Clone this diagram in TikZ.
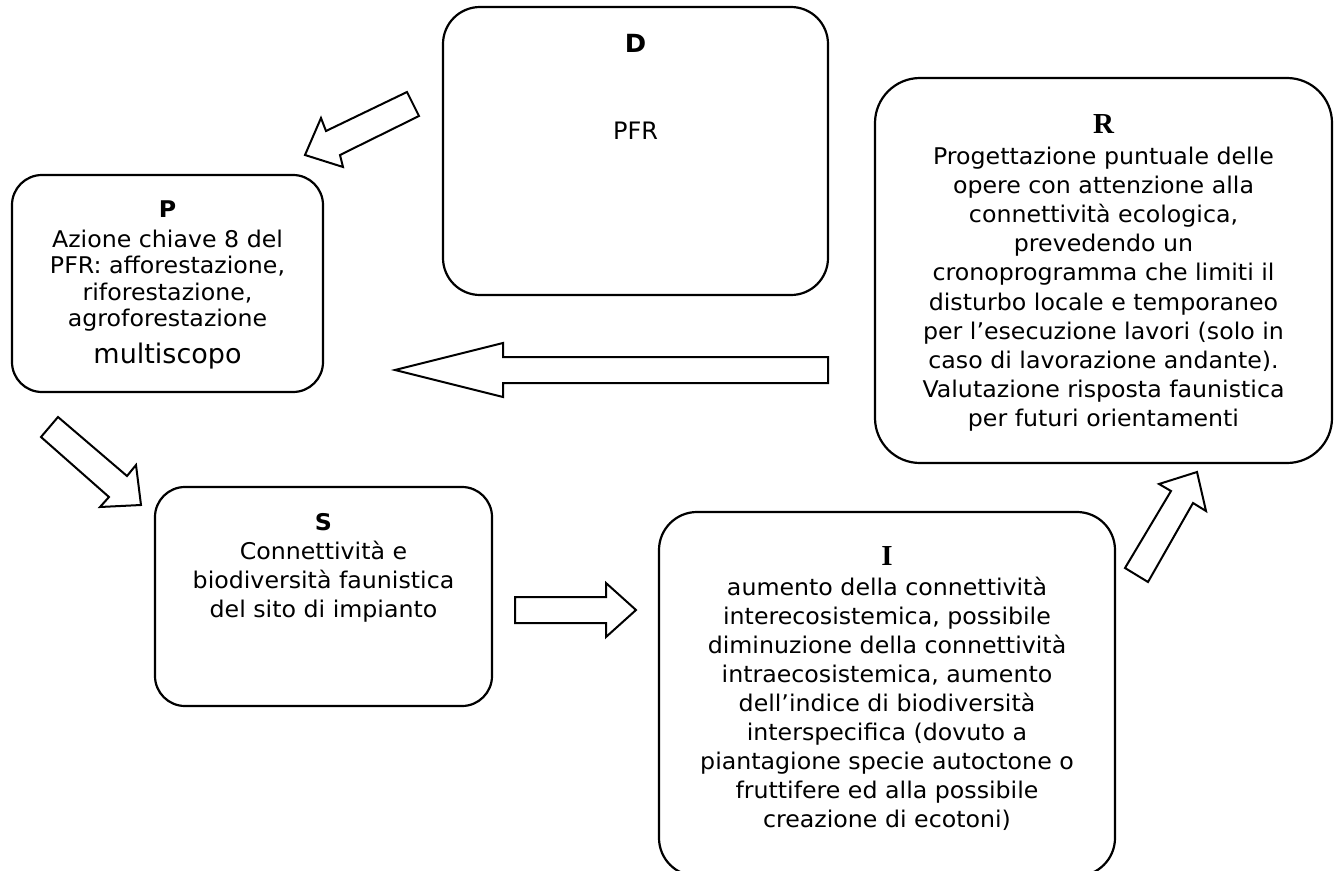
\documentclass[tikz,border=0pt]{standalone}
\usepackage{fontspec}
\newfontfamily\bodyf[FakeStretch=1.03]{DejaVu Sans}
\newfontfamily\plainf{DejaVu Sans}
\newfontfamily\titlef{Liberation Serif}
\begin{document}
\begin{tikzpicture}[x=1pt,y=-1pt,
  box/.style={draw=black, line width=2.2pt, rounded corners=#1, inner sep=0pt},
  blockarrow/.style={draw=black, line width=2pt, fill=white, line join=miter},
  txt/.style={inner sep=0pt, anchor=base, font=\bodyf\fontsize{23}{28}\selectfont},
  head/.style={inner sep=0pt, anchor=base, font=\bodyf\bfseries\fontsize{#1}{28}\selectfont},
  serifhead/.style={inner sep=0pt, anchor=base, font=\titlef\bfseries\fontsize{29}{30}\selectfont},
  bigtxt/.style={inner sep=0pt, anchor=base, font=\plainf\fontsize{#1}{#1}\selectfont}]
\useasboundingbox (0,0) rectangle (1338,870);
\fill[white] (0,0) rectangle (1338,870);
\clip (0,0) rectangle (1338,870);

% DPSIR boxes
\node[box=37pt, minimum width=385pt, minimum height=288pt] (D) at (635.5,151) {};
\node[box=30pt, minimum width=311pt, minimum height=217pt] (P) at (167.5,283.5) {};
\node[box=45pt, minimum width=457pt, minimum height=385pt] (R) at (1103.5,270.5) {};
\node[box=30pt, minimum width=337pt, minimum height=219pt] (S) at (323.5,596.5) {};
\node[box=38pt, minimum width=456pt, minimum height=364pt] (I) at (887,694) {};

% D: driver
\node[head=25] (Dh) at (635.5,52) {D};
\node[bigtxt=24] (Dt) at (635.5,139) {PFR};

% P: pressure
\node[head=23] (Ph) at (167.5,217) {P};
\foreach \t [count=\k] in {Azione chiave 8 del, {PFR: afforestazione,}, {riforestazione,}, agroforestazione}
  \node[txt] (P\k) at (167.5,{247+(\k-1)*26.5}) {\t};
\node[bigtxt=27] (Pm) at (167.5,363) {multiscopo};

% R: responses
\node[serifhead] (Rh) at (1103.5,133) {R};
\foreach \t [count=\k] in {Progettazione puntuale delle, opere con attenzione alla, {connettività ecologica,},
  prevedendo un, cronoprogramma che limiti il, disturbo locale e temporaneo,
  per l’esecuzione lavori (solo in, caso di lavorazione andante)., Valutazione risposta faunistica,
  per futuri orientamenti}
  \node[txt] (R\k) at (1103.5,{164+(\k-1)*29.2}) {\t};

% S: state
\node[head=23] (Sh) at (323.5,530) {S};
\foreach \t [count=\k] in {Connettività e, biodiversità faunistica, del sito di impianto}
  \node[txt] (S\k) at (323.5,{559+(\k-1)*29}) {\t};

% I: impacts
\node[serifhead] (Ih) at (887,565) {I};
\foreach \t [count=\k] in {aumento della connettività, {interecosistemica, possibile}, diminuzione della connettività,
  {intraecosistemica, aumento}, dell’indice di biodiversità, interspecifica (dovuto a,
  piantagione specie autoctone o, fruttifere ed alla possibile, creazione di ecotoni)}
  \node[txt] (I\k) at (887,{595+(\k-1)*29}) {\t};

% block arrows of the cycle
\draw[blockarrow] (407,92) -- (326,131) -- (321,118) -- (305,155) -- (343,167) -- (340,155) -- (419,116) -- cycle;
\draw[blockarrow] (828,357) -- (503,357) -- (503,343) -- (395,370) -- (503,397) -- (503,383) -- (828,383) -- cycle;
\draw[blockarrow] (58,417) -- (127,476) -- (136,465) -- (141,505) -- (100,507) -- (109,497) -- (41,437) -- cycle;
\draw[blockarrow] (515,597) -- (606,597) -- (606,583) -- (636,610) -- (606,637) -- (606,623) -- (515,623) -- cycle;
\draw[blockarrow] (1125,568) -- (1171,491) -- (1159,484) -- (1197,472) -- (1206,511) -- (1193,503) -- (1148,582) -- cycle;
\end{tikzpicture}
\end{document}
